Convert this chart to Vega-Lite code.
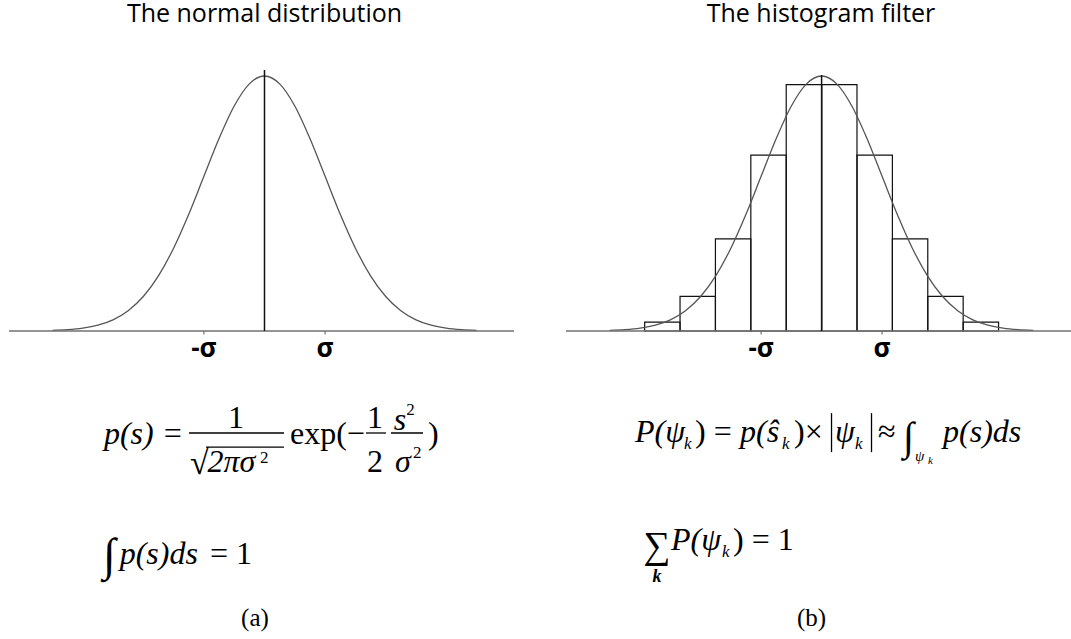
{
"$schema":"https://vega.github.io/schema/vega-lite/v6.json",
"background":"white",
"padding":{"left":8,"top":2,"right":0,"bottom":0},
"spacing":50,
"config":{
 "view":{"stroke":null},
 "title":{"font":"Open Sans","fontSize":25,"fontWeight":"normal","color":"#000","offset":33,"anchor":"middle"},
 "style":{
  "m":{"font":"Liberation Serif","fontSize":32,"align":"left","baseline":"alphabetic","fill":"#000"},
  "mi":{"font":"Liberation Serif","fontSize":32,"fontStyle":"italic","align":"left","baseline":"alphabetic","fill":"#000"},
  "sup":{"font":"Liberation Serif","fontSize":17,"align":"left","baseline":"alphabetic","fill":"#000"},
  "subi":{"font":"Liberation Serif","fontSize":17,"fontStyle":"italic","align":"left","baseline":"alphabetic","fill":"#000"},
  "cap":{"font":"Liberation Serif","fontSize":25,"align":"center","baseline":"alphabetic","fill":"#000"},
  "sig":{"font":"Open Sans","fontSize":26,"fontWeight":"bold","align":"center","baseline":"alphabetic","fill":"#000"}
 }
},
"datasets":{
 "curve":[
  {"s":-3.5,"p":0.0022},{"s":-3.25,"p":0.0051},{"s":-3,"p":0.0111},{"s":-2.75,"p":0.0228},{"s":-2.5,"p":0.0439},{"s":-2.25,"p":0.0796},{"s":-2,"p":0.1353},{"s":-1.75,"p":0.2163},{"s":-1.5,"p":0.3247},{"s":-1.25,"p":0.4578},{"s":-1,"p":0.6065},{"s":-0.75,"p":0.7548},{"s":-0.5,"p":0.8825},{"s":-0.25,"p":0.9692},{"s":0,"p":1},
  {"s":0.25,"p":0.9692},{"s":0.5,"p":0.8825},{"s":0.75,"p":0.7548},{"s":1,"p":0.6065},{"s":1.25,"p":0.4578},{"s":1.5,"p":0.3247},{"s":1.75,"p":0.2163},{"s":2,"p":0.1353},{"s":2.25,"p":0.0796},{"s":2.5,"p":0.0439},{"s":2.75,"p":0.0228},{"s":3,"p":0.0111},{"s":3.25,"p":0.0051},{"s":3.5,"p":0.0022}
 ],
 "ticks":[{"s":-1,"label":"-σ"},{"s":1,"label":"σ"}],
 "bins":[
  {"lo":-2.925,"hi":-2.34,"p":0.035},{"lo":-2.34,"hi":-1.755,"p":0.136},{"lo":-1.755,"hi":-1.17,"p":0.361},{"lo":-1.17,"hi":-0.585,"p":0.69},{"lo":-0.585,"hi":0,"p":0.966},
  {"lo":0,"hi":0.585,"p":0.966},{"lo":0.585,"hi":1.17,"p":0.69},{"lo":1.17,"hi":1.755,"p":0.361},{"lo":1.755,"hi":2.34,"p":0.136},{"lo":2.34,"hi":2.925,"p":0.035}
 ]
},
"hconcat":[
 {
  "title":{"text":"The normal distribution","dx":3},
  "width":505,"height":579,
  "layer":[
   {"data":{"name":"curve"},"mark":{"type":"line","stroke":"#555","strokeWidth":1.3,"interpolate":"monotone"},
    "encoding":{"x":{"field":"s","type":"quantitative","scale":{"domain":[-4.216,4.117],"nice":false,"zero":false},"axis":null},
                "y":{"field":"p","type":"quantitative","scale":{"domain":[-1.2078,1.0627],"nice":false,"zero":false},"axis":null}}},
   {"data":{"values":[{}]},"mark":{"type":"rule","stroke":"#707070","strokeWidth":1.6},"encoding":{"y":{"datum":0}}},
   {"data":{"name":"ticks"},"mark":{"type":"rule","stroke":"#707070","strokeWidth":1.2},"encoding":{"x":{"field":"s","type":"quantitative"},"y":{"datum":0},"y2":{"datum":-0.014}}},
   {"data":{"name":"ticks"},"mark":{"type":"text","style":"sig"},"encoding":{"x":{"field":"s","type":"quantitative"},"y":{"datum":-0.102},"text":{"field":"label"}}},
   {"data":{"values":[{}]},"mark":{"type":"rule","stroke":"#111","strokeWidth":1.5},"encoding":{"x":{"datum":0},"y":{"datum":0},"y2":{"datum":1.0235}}},
   {"data":{"values":[{"t":"p(s) ="}]},"mark":{"type":"text","style":"mi"},"encoding":{"x":{"datum":-2.649},"y":{"datum":-0.443},"text":{"field":"t"}}},
   {"data":{"values":[{"t":"1"}]},"mark":{"type":"text","style":"m","align":"center"},"encoding":{"x":{"datum":-0.47},"y":{"datum":-0.38},"text":{"field":"t"}}},
   {"data":{"values":[{}]},"mark":{"type":"rule","stroke":"#000","strokeWidth":1.3},"encoding":{"x":{"datum":-1.246},"x2":{"datum":0.322},"y":{"datum":-0.4}}},
   {"data":{"values":[{"t":"√"}]},"mark":{"type":"text","style":"m","fontSize":34},"encoding":{"x":{"datum":-1.23},"y":{"datum":-0.56},"text":{"field":"t"}}},
   {"data":{"values":[{}]},"mark":{"type":"rule","stroke":"#000","strokeWidth":1.3},"encoding":{"x":{"datum":-0.965},"x2":{"datum":0.322},"y":{"datum":-0.455}}},
   {"data":{"values":[{"t":"2πσ"}]},"mark":{"type":"text","style":"mi"},"encoding":{"x":{"datum":-0.94},"y":{"datum":-0.553},"text":{"field":"t"}}},
   {"data":{"values":[{"t":"2"}]},"mark":{"type":"text","style":"sup"},"encoding":{"x":{"datum":-0.075},"y":{"datum":-0.518},"text":{"field":"t"}}},
   {"data":{"values":[{"t":"exp(−"}]},"mark":{"type":"text","style":"m"},"encoding":{"x":{"datum":0.421},"y":{"datum":-0.443},"text":{"field":"t"}}},
   {"data":{"values":[{"t":"1"}]},"mark":{"type":"text","style":"m","align":"center"},"encoding":{"x":{"datum":1.823},"y":{"datum":-0.38},"text":{"field":"t"}}},
   {"data":{"values":[{"t":"2"}]},"mark":{"type":"text","style":"m","align":"center"},"encoding":{"x":{"datum":1.823},"y":{"datum":-0.553},"text":{"field":"t"}}},
   {"data":{"values":[{}]},"mark":{"type":"rule","stroke":"#000","strokeWidth":1.3},"encoding":{"x":{"datum":1.675},"x2":{"datum":2.005},"y":{"datum":-0.4}}},
   {"data":{"values":[{"t":"s"}]},"mark":{"type":"text","style":"mi","align":"center"},"encoding":{"x":{"datum":2.236},"y":{"datum":-0.388},"text":{"field":"t"}}},
   {"data":{"values":[{"t":"2"}]},"mark":{"type":"text","style":"sup"},"encoding":{"x":{"datum":2.34},"y":{"datum":-0.329},"text":{"field":"t"}}},
   {"data":{"values":[{"t":"σ"}]},"mark":{"type":"text","style":"mi","align":"center"},"encoding":{"x":{"datum":2.285},"y":{"datum":-0.553},"text":{"field":"t"}}},
   {"data":{"values":[{"t":"2"}]},"mark":{"type":"text","style":"sup"},"encoding":{"x":{"datum":2.45},"y":{"datum":-0.498},"text":{"field":"t"}}},
   {"data":{"values":[{}]},"mark":{"type":"rule","stroke":"#000","strokeWidth":1.3},"encoding":{"x":{"datum":2.087},"x2":{"datum":2.616},"y":{"datum":-0.4}}},
   {"data":{"values":[{"t":")"}]},"mark":{"type":"text","style":"m"},"encoding":{"x":{"datum":2.698},"y":{"datum":-0.443},"text":{"field":"t"}}},
   {"data":{"values":[{"t":"∫"}]},"mark":{"type":"text","style":"m","fontSize":46},"encoding":{"x":{"datum":-2.665},"y":{"datum":-0.937},"text":{"field":"t"}}},
   {"data":{"values":[{"t":"p(s)ds"}]},"mark":{"type":"text","style":"mi"},"encoding":{"x":{"datum":-2.39},"y":{"datum":-0.914},"text":{"field":"t"}}},
   {"data":{"values":[{"t":"= 1"}]},"mark":{"type":"text","style":"m"},"encoding":{"x":{"datum":-0.9},"y":{"datum":-0.914},"text":{"field":"t"}}},
   {"data":{"values":[{"t":"(a)"}]},"mark":{"type":"text","style":"cap"},"encoding":{"x":{"datum":-0.157},"y":{"datum":-1.157},"text":{"field":"t"}}}
  ]
 },
 {
  "title":{"text":"The histogram filter","dx":1},
  "width":508,"height":579,
  "layer":[
   {"data":{"name":"bins"},"mark":{"type":"rect","fillOpacity":0,"stroke":"#111","strokeWidth":1.2},
    "encoding":{"x":{"field":"lo","type":"quantitative","scale":{"domain":[-4.225,4.172],"nice":false,"zero":false},"axis":null},"x2":{"field":"hi"},
                "y":{"field":"p","type":"quantitative","scale":{"domain":[-1.2078,1.0627],"nice":false,"zero":false},"axis":null},"y2":{"datum":0}}},
   {"data":{"name":"curve"},"mark":{"type":"line","stroke":"#555","strokeWidth":1.3,"interpolate":"monotone"},
    "encoding":{"x":{"field":"s","type":"quantitative"},"y":{"field":"p","type":"quantitative"}}},
   {"data":{"values":[{}]},"mark":{"type":"rule","stroke":"#707070","strokeWidth":1.6},"encoding":{"y":{"datum":0}}},
   {"data":{"name":"ticks"},"mark":{"type":"rule","stroke":"#707070","strokeWidth":1.2},"encoding":{"x":{"field":"s","type":"quantitative"},"y":{"datum":0},"y2":{"datum":-0.014}}},
   {"data":{"name":"ticks"},"mark":{"type":"text","style":"sig"},"encoding":{"x":{"field":"s","type":"quantitative"},"y":{"datum":-0.102},"text":{"field":"label"}}},
   {"data":{"values":[{}]},"mark":{"type":"rule","stroke":"#111","strokeWidth":1.5},"encoding":{"x":{"datum":0},"y":{"datum":0},"y2":{"datum":1.004}}},
   {"data":{"values":[{"t":"P(ψ"}]},"mark":{"type":"text","style":"mi"},"encoding":{"x":{"datum":-3.084},"y":{"datum":-0.435},"text":{"field":"t"}}},
   {"data":{"values":[{"t":"k"}]},"mark":{"type":"text","style":"subi"},"encoding":{"x":{"datum":-2.274},"y":{"datum":-0.463},"text":{"field":"t"}}},
   {"data":{"values":[{"t":") ="}]},"mark":{"type":"text","style":"m"},"encoding":{"x":{"datum":-2.093},"y":{"datum":-0.435},"text":{"field":"t"}}},
   {"data":{"values":[{"t":"p(ŝ"}]},"mark":{"type":"text","style":"mi"},"encoding":{"x":{"datum":-1.349},"y":{"datum":-0.435},"text":{"field":"t"}}},
   {"data":{"values":[{"t":"k"}]},"mark":{"type":"text","style":"subi"},"encoding":{"x":{"datum":-0.655},"y":{"datum":-0.463},"text":{"field":"t"}}},
   {"data":{"values":[{"t":")×"}]},"mark":{"type":"text","style":"m"},"encoding":{"x":{"datum":-0.456},"y":{"datum":-0.435},"text":{"field":"t"}}},
   {"data":{"values":[{}]},"mark":{"type":"rule","stroke":"#000","strokeWidth":1.3},"encoding":{"x":{"datum":0.164},"y":{"datum":-0.322},"y2":{"datum":-0.475}}},
   {"data":{"values":[{"t":"ψ"}]},"mark":{"type":"text","style":"mi"},"encoding":{"x":{"datum":0.221},"y":{"datum":-0.435},"text":{"field":"t"}}},
   {"data":{"values":[{"t":"k"}]},"mark":{"type":"text","style":"subi"},"encoding":{"x":{"datum":0.552},"y":{"datum":-0.463},"text":{"field":"t"}}},
   {"data":{"values":[{}]},"mark":{"type":"rule","stroke":"#000","strokeWidth":1.3},"encoding":{"x":{"datum":0.825},"y":{"datum":-0.322},"y2":{"datum":-0.475}}},
   {"data":{"values":[{"t":"≈"}]},"mark":{"type":"text","style":"m"},"encoding":{"x":{"datum":0.932},"y":{"datum":-0.435},"text":{"field":"t"}}},
   {"data":{"values":[{"t":"∫"}]},"mark":{"type":"text","style":"m","fontSize":40},"encoding":{"x":{"datum":1.345},"y":{"datum":-0.467},"text":{"field":"t"}}},
   {"data":{"values":[{"t":"ψ"}]},"mark":{"type":"text","style":"subi","fontSize":15},"encoding":{"x":{"datum":1.544},"y":{"datum":-0.51},"text":{"field":"t"}}},
   {"data":{"values":[{"t":"k"}]},"mark":{"type":"text","style":"subi","fontSize":11},"encoding":{"x":{"datum":1.759},"y":{"datum":-0.522},"text":{"field":"t"}}},
   {"data":{"values":[{"t":"p(s)ds"}]},"mark":{"type":"text","style":"mi"},"encoding":{"x":{"datum":2.007},"y":{"datum":-0.435},"text":{"field":"t"}}},
   {"data":{"values":[{"t":"∑"}]},"mark":{"type":"text","style":"m","align":"center","fontSize":38},"encoding":{"x":{"datum":-2.721},"y":{"datum":-0.89},"text":{"field":"t"}}},
   {"data":{"values":[{"t":"k"}]},"mark":{"type":"text","style":"subi","align":"center","fontWeight":"bold","fontSize":18},"encoding":{"x":{"datum":-2.721},"y":{"datum":-0.984},"text":{"field":"t"}}},
   {"data":{"values":[{"t":"P(ψ"}]},"mark":{"type":"text","style":"mi"},"encoding":{"x":{"datum":-2.489},"y":{"datum":-0.859},"text":{"field":"t"}}},
   {"data":{"values":[{"t":"k"}]},"mark":{"type":"text","style":"subi"},"encoding":{"x":{"datum":-1.646},"y":{"datum":-0.886},"text":{"field":"t"}}},
   {"data":{"values":[{"t":") = 1"}]},"mark":{"type":"text","style":"m"},"encoding":{"x":{"datum":-1.464},"y":{"datum":-0.859},"text":{"field":"t"}}},
   {"data":{"values":[{"t":"(b)"}]},"mark":{"type":"text","style":"cap"},"encoding":{"x":{"datum":-0.167},"y":{"datum":-1.157},"text":{"field":"t"}}}
  ]
 }
]
}
